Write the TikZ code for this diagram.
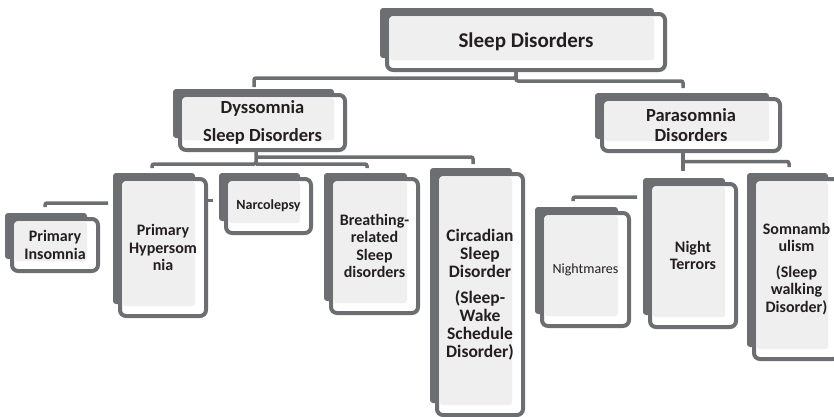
\documentclass[tikz,border=0pt]{standalone}
\usepackage{fontspec}
\setmainfont{Carlito}
\definecolor{dg}{RGB}{109,110,113}
\definecolor{lg}{RGB}{239,239,239}
\definecolor{tx}{RGB}{35,31,32}
\tikzset{
  shadowbox/.style={fill=dg, rounded corners=3pt},
  framebox/.style={draw=dg, line width=4pt, fill=white, rounded corners=6pt},
  innerbox/.style={fill=lg, rounded corners=2.5pt},
  lbl/.style={inner sep=0pt, align=center, text=tx},
  conn/.style={draw=dg, line width=3.5pt, rounded corners=2pt},
}
\newcommand\dbox[7]{%
  \fill[shadowbox] (#2-10,#3-9) rectangle (#4,#5-2);
  \draw[framebox] (#2-3,#3-3) rectangle (#4+11,#5+10);
  \fill[innerbox] (#2,#3) rectangle (#4,#5);
  \node[lbl, font={#6}] (#1) at ({(#2+#4+8)/2},{(#3+#5+7)/2}) {#7};
}
\begin{document}
\begin{tikzpicture}[x=1pt,y=-1pt]
\useasboundingbox (0,0) rectangle (834,416);
\clip (0,0) rectangle (834,416);
% connectors
\coordinate (sdS) at (516,71);
\coordinate (dyN) at (254,87);
\coordinate (paN) at (683,88);
\coordinate (dyS) at (256,151);
\coordinate (phN) at (152,168);
\coordinate (brN) at (367,168);
\coordinate (ciN) at (473,164);
\coordinate (paS) at (683,152);
\coordinate (ntN) at (683,171);
\coordinate (soN) at (789,167);
\coordinate (piA) at (45,207);
\coordinate (piB) at (108,203);
\coordinate (nmA) at (573,201);
\coordinate (nmB) at (637,197);
\coordinate (hyA) at (207,200.5);
\coordinate (hyB) at (213,200.5);
\draw[conn] (sdS) -- (516,78) -- (254,78) -- (dyN);
\draw[conn] (sdS) -- (516,81) -- (683,81) -- (paN);
\draw[conn] (dyS) -- (256,164) -- (152,164) -- (phN);
\draw[conn] (256,164) -- (367,164) -- (brN);
\draw[conn] (256,157) -- (473,157) -- (ciN);
\draw[conn] (paS) -- (ntN);
\draw[conn] (683,161.5) -- (789,161.5) -- (soN);
\draw[conn] (piA) -- (45,203) -- (piB);
\draw[conn] (nmA) -- (573,197) -- (nmB);
\draw[conn] (hyA) -- (hyB);
% boxes
\dbox{sd}{390}{17}{654}{60}{\fontsize{21}{24}\selectfont\bfseries}{Sleep Disorders}
\dbox{dy}{183}{98}{334}{140}{\fontsize{18.5}{20.5}\selectfont\bfseries}{Dyssomnia\\[7pt]Sleep Disorders}
\dbox{pa}{605}{102}{769}{141}{\fontsize{18.5}{20.5}\selectfont\bfseries}{Parasomnia\\Disorders}
\dbox{pi}{15}{222}{87}{261}{\fontsize{16}{17.5}\selectfont\bfseries}{Primary\\Insomnia}
\dbox{ph}{123}{182}{195}{306}{\fontsize{16}{17.5}\selectfont\bfseries}{Primary\\Hypersom\\nia}
\dbox{na}{229}{182}{300}{223}{\fontsize{14}{16}\selectfont\bfseries}{Narcolepsy}
\dbox{br}{334}{182}{407}{303}{\fontsize{16}{17.5}\selectfont\bfseries}{Breathing-\\related\\Sleep\\disorders}
\dbox{ci}{440}{177}{512}{405}{\fontsize{17.5}{18}\selectfont\bfseries}{Circadian\\Sleep\\Disorder\\[8pt](Sleep-\\Wake\\Schedule\\Disorder)}
\dbox{nm}{545}{216}{618}{316}{\fontsize{14}{16}\selectfont}{Nightmares}
\dbox{nt}{653}{187}{725}{317}{\fontsize{16}{17.5}\selectfont\bfseries}{Night\\Terrors}
\dbox{so}{757}{182}{828}{349}{\fontsize{16}{17.5}\selectfont\bfseries}{Somnamb\\ulism\\[8pt](Sleep\\walking\\Disorder)}
\end{tikzpicture}
\end{document}
